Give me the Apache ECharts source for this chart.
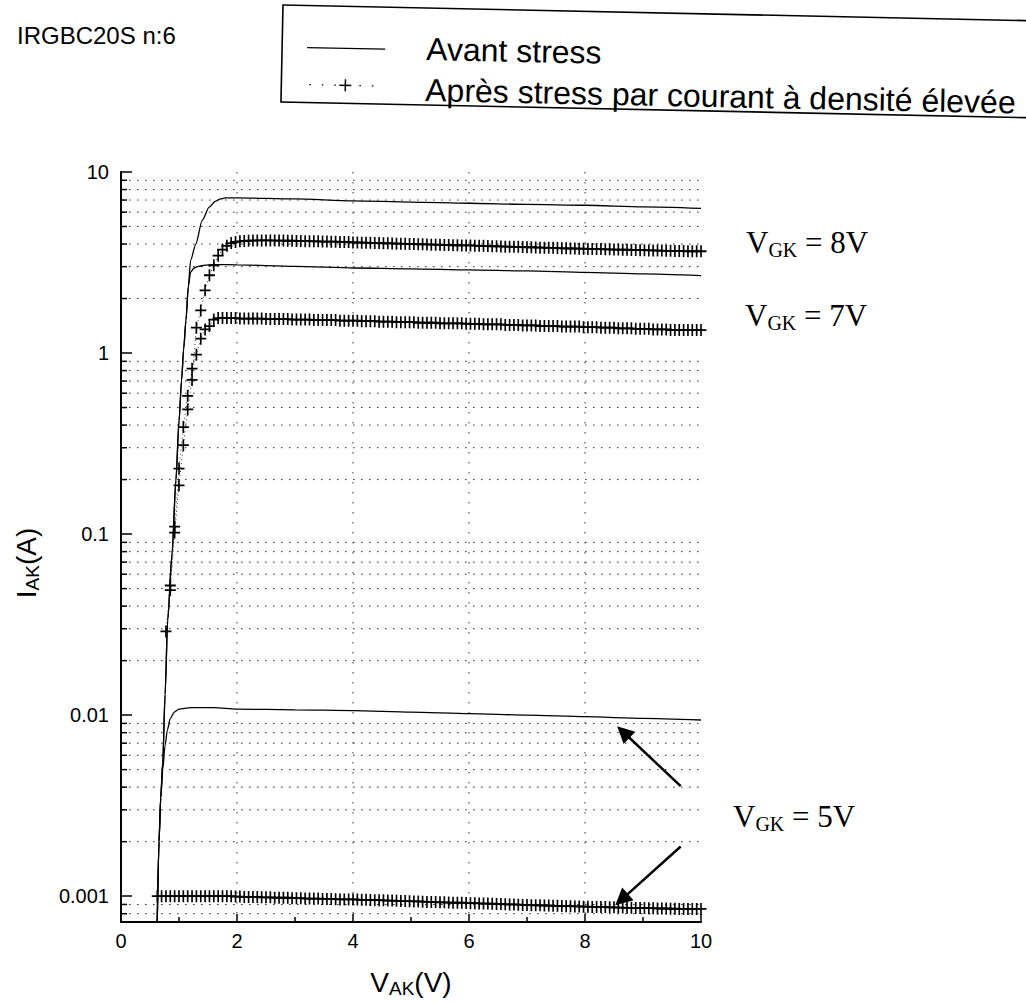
<!DOCTYPE html>
<html><head><meta charset="utf-8">
<script src="https://cdn.jsdelivr.net/npm/echarts@6.0.0/dist/echarts.min.js"></script>
<style>html,body{margin:0;padding:0;background:#fff;overflow:hidden}#chart{width:1026px;height:1004px}</style>
</head><body><div id="chart"></div>
<script>
// ---------------- data ----------------
const xTickLabels = ['0', '2', '4', '6', '8', '10'];
const yTickLabels = ['0.001', '0.01', '0.1', '1', '10'];
const hGridValues = [0.0008, 0.0009,
  0.002, 0.003, 0.004, 0.005, 0.006, 0.007, 0.008, 0.009,
  0.02, 0.03, 0.04, 0.05, 0.06, 0.07, 0.08, 0.09,
  0.2, 0.3, 0.4, 0.5, 0.6, 0.7, 0.8, 0.9,
  2, 3, 4, 5, 6, 7, 8, 9];
const vGridValues = [2, 4, 6, 8];

// "Avant stress" (solid curves)
const vAvant5 = [0.625, 0.655, 0.685, 0.72, 0.76, 0.8, 0.85, 0.92, 1.0, 1.2, 1.6, 2, 3, 4, 5, 6, 7, 8, 9, 10];
const iAvant5 = [0.00072, 0.002, 0.0035, 0.005, 0.0068, 0.0083, 0.0096, 0.0104, 0.0108, 0.011, 0.011, 0.0108, 0.0107, 0.0106, 0.0104, 0.0102, 0.0100, 0.0098, 0.0096, 0.0094];
const vAvant7 = [0.625, 0.655, 0.685, 0.72, 0.76, 0.805, 0.88, 0.947, 1.0, 1.045, 1.08, 1.12, 1.16, 1.2, 1.26, 1.33, 1.45, 1.6, 2, 3, 4, 5, 6, 7, 8, 9, 10];
const iAvant7 = [0.00072, 0.002, 0.0035, 0.0055, 0.013, 0.0335, 0.078, 0.199, 0.42, 0.71, 1.05, 1.52, 2.32, 2.8, 2.95, 3.01, 3.06, 3.08, 3.07, 3.01, 2.95, 2.92, 2.88, 2.84, 2.79, 2.74, 2.68];
const vAvant8 = [0.625, 0.655, 0.685, 0.72, 0.76, 0.805, 0.88, 0.947, 1.0, 1.045, 1.08, 1.12, 1.16, 1.2, 1.29, 1.4, 1.52, 1.63, 1.72, 1.8, 2, 3, 4, 5, 6, 7, 8, 9, 10];
const iAvant8 = [0.00072, 0.002, 0.0035, 0.0055, 0.013, 0.0335, 0.078, 0.199, 0.42, 0.71, 1.05, 1.52, 2.32, 3.25, 4.0, 5.4, 6.4, 6.9, 7.1, 7.2, 7.2, 7.1, 6.93, 6.82, 6.72, 6.63, 6.55, 6.42, 6.3];

// "Après stress" (crosses), shared V_AK grid
const vApres = [
  0.625, 0.7, 0.775, 0.85, 0.925, 1, 1.075, 1.15, 1.225, 1.3,
  1.375, 1.45, 1.525, 1.6, 1.675, 1.75, 1.825, 1.9, 1.975, 2.05,
  2.125, 2.2, 2.275, 2.35, 2.425, 2.5, 2.575, 2.65, 2.725, 2.8,
  2.875, 2.95, 3.025, 3.1, 3.175, 3.25, 3.325, 3.4, 3.475, 3.55,
  3.625, 3.7, 3.775, 3.85, 3.925, 4, 4.075, 4.15, 4.225, 4.3,
  4.375, 4.45, 4.525, 4.6, 4.675, 4.75, 4.825, 4.9, 4.975, 5.05,
  5.125, 5.2, 5.275, 5.35, 5.425, 5.5, 5.575, 5.65, 5.725, 5.8,
  5.875, 5.95, 6.025, 6.1, 6.175, 6.25, 6.325, 6.4, 6.475, 6.55,
  6.625, 6.7, 6.775, 6.85, 6.925, 7, 7.075, 7.15, 7.225, 7.3,
  7.375, 7.45, 7.525, 7.6, 7.675, 7.75, 7.825, 7.9, 7.975, 8.05,
  8.125, 8.2, 8.275, 8.35, 8.425, 8.5, 8.575, 8.65, 8.725, 8.8,
  8.875, 8.95, 9.025, 9.1, 9.175, 9.25, 9.325, 9.4, 9.475, 9.55,
  9.625, 9.7, 9.775, 9.85, 9.925, 10];
const iApres8 = [
  null, null, 0.029, 0.052, 0.102, 0.186, 0.31, 0.488, 0.71, 1.38,
  1.72, 2.22, 2.69, 3.05, 3.45, 3.73, 3.91, 4.05, 4.11, 4.14,
  4.16, 4.17, 4.18, 4.19, 4.19, 4.19, 4.19, 4.18, 4.18, 4.18,
  4.17, 4.17, 4.16, 4.16, 4.15, 4.15, 4.14, 4.14, 4.13, 4.13,
  4.12, 4.12, 4.11, 4.11, 4.10, 4.08, 4.08, 4.07, 4.07, 4.06,
  4.05, 4.05, 4.04, 4.04, 4.03, 4.02, 4.02, 4.01, 4.00, 4.00,
  3.99, 3.99, 3.98, 3.97, 3.97, 3.96, 3.95, 3.95, 3.94, 3.94,
  3.93, 3.93, 3.93, 3.92, 3.91, 3.91, 3.90, 3.89, 3.89, 3.88,
  3.87, 3.87, 3.86, 3.86, 3.85, 3.84, 3.84, 3.83, 3.82, 3.82,
  3.81, 3.81, 3.80, 3.79, 3.79, 3.78, 3.78, 3.77, 3.77, 3.76,
  3.76, 3.75, 3.75, 3.74, 3.74, 3.73, 3.73, 3.72, 3.72, 3.71,
  3.71, 3.70, 3.70, 3.69, 3.69, 3.68, 3.68, 3.67, 3.67, 3.66,
  3.66, 3.66, 3.65, 3.65, 3.65, 3.65];
const iApres7 = [
  null, null, null, 0.049, 0.11, 0.23, 0.39, 0.58, 0.82, 0.98,
  1.2, 1.35, 1.41, 1.53, 1.56, 1.56, 1.56, 1.56, 1.56, 1.55,
  1.55, 1.55, 1.55, 1.55, 1.55, 1.54, 1.54, 1.54, 1.54, 1.54,
  1.54, 1.53, 1.53, 1.53, 1.53, 1.53, 1.52, 1.52, 1.52, 1.52,
  1.52, 1.52, 1.51, 1.51, 1.51, 1.51, 1.51, 1.50, 1.50, 1.50,
  1.50, 1.49, 1.49, 1.49, 1.49, 1.48, 1.48, 1.48, 1.48, 1.48,
  1.47, 1.47, 1.47, 1.47, 1.47, 1.46, 1.46, 1.46, 1.46, 1.46,
  1.46, 1.45, 1.45, 1.45, 1.45, 1.44, 1.44, 1.44, 1.44, 1.44,
  1.43, 1.43, 1.43, 1.43, 1.42, 1.42, 1.42, 1.42, 1.41, 1.41,
  1.41, 1.41, 1.41, 1.40, 1.40, 1.40, 1.40, 1.40, 1.39, 1.39,
  1.39, 1.39, 1.38, 1.38, 1.38, 1.38, 1.37, 1.37, 1.37, 1.37,
  1.36, 1.36, 1.36, 1.36, 1.35, 1.35, 1.35, 1.35, 1.34, 1.34,
  1.34, 1.34, 1.34, 1.34, 1.34, 1.34];
const iApres5 = [
  0.00100, 0.00100, 0.00100, 0.00100, 0.00100, 0.00100, 0.00100, 0.00100, 0.00100, 0.00100,
  0.00100, 0.00100, 0.00100, 0.00100, 0.00100, 0.00100, 0.00100, 0.00100, 0.000995, 0.000995,
  0.00099, 0.00099, 0.00099, 0.00099, 0.000985, 0.000985, 0.000985, 0.00098, 0.00098, 0.00098,
  0.00098, 0.000975, 0.000975, 0.000975, 0.00097, 0.00097, 0.00097, 0.00097, 0.000965, 0.000965,
  0.000965, 0.000962, 0.00096, 0.00096, 0.00096, 0.00096, 0.000958, 0.000955, 0.000955, 0.000952,
  0.00095, 0.00095, 0.000948, 0.000945, 0.000945, 0.000942, 0.00094, 0.00094, 0.000938, 0.000935,
  0.000935, 0.000932, 0.00093, 0.00093, 0.000928, 0.000925, 0.000925, 0.000922, 0.00092, 0.00092,
  0.00092, 0.000918, 0.000915, 0.000915, 0.000912, 0.00091, 0.00091, 0.000908, 0.000905, 0.000905,
  0.000902, 0.0009, 0.0009, 0.000898, 0.000895, 0.000895, 0.000892, 0.00089, 0.00089, 0.000888,
  0.000888, 0.000885, 0.000885, 0.000882, 0.00088, 0.00088, 0.000878, 0.000878, 0.000875, 0.000875,
  0.000872, 0.000872, 0.00087, 0.00087, 0.000868, 0.000868, 0.000865, 0.000865, 0.000862, 0.000862,
  0.00086, 0.00086, 0.00086, 0.000858, 0.000858, 0.000855, 0.000855, 0.000855, 0.000852, 0.000852,
  0.00085, 0.00085, 0.00085, 0.00085, 0.00085, 0.00085];

// annotation arrows (data coordinates: [V_AK, I_AK]) tail -> head
const arrowTails = [[9.65, 0.00405], [9.65, 0.00188]];
const arrowHeads = [[8.66, 0.00807], [8.63, 0.000957]];

// ---------------- chart ----------------
const sans = "'Liberation Sans', Arial, sans-serif";
const serif = "'Liberation Serif', 'Times New Roman', serif";
const crossPath = 'path://M8.5,0h3v8.5h8.5v3h-8.5v8.5h-3v-8.5h-8.5v-3h8.5z';
const X_MIN = 0, X_MAX = 10, Y_MIN = 0.00072, Y_MAX = 10;

function pairs(xs, ys) {
  return xs.map((x, i) => [x, ys[i]]).filter(p => p[1] != null);
}

const chart = echarts.init(document.getElementById('chart'), null, {renderer: 'svg'});

const solidStyle = {color: '#000', width: 1.3};
function avant(name, xs, ys, extra) {
  return Object.assign({
    name: name, type: 'line', data: pairs(xs, ys), showSymbol: false,
    smooth: 0.25, smoothMonotone: 'x', lineStyle: solidStyle, z: 5, silent: true
  }, extra || {});
}
function apres(name, ys) {
  return {
    name: name, type: 'line', data: pairs(vApres, ys),
    symbol: crossPath, symbolSize: [11, 12], showSymbol: true,
    itemStyle: {color: '#000'},
    lineStyle: {color: '#333', width: 1, type: [1, 3]}, z: 6, silent: true
  };
}

const rich = {
  m: {fontSize: 31, fontFamily: serif, lineHeight: 35, fill: '#000'},
  s: {fontSize: 20, fontFamily: serif, lineHeight: 14, verticalAlign: 'bottom', fill: '#000'}
};

const option = {
  animation: false,
  backgroundColor: '#fff',
  grid: {left: 121, right: 325, top: 172, bottom: 82, containLabel: false},
  xAxis: {
    type: 'value', min: X_MIN, max: X_MAX, interval: 2,
    axisLine: {show: true, onZero: false, lineStyle: {color: '#000', width: 2}},
    axisTick: {show: true, inside: true, length: 8, lineStyle: {color: '#000', width: 1.5}},
    minorTick: {show: true, splitNumber: 2, length: 5, lineStyle: {color: '#000', width: 1.5}},
    splitLine: {show: false},
    axisLabel: {margin: 9, color: '#000', fontSize: 20, fontFamily: sans,
      formatter: v => xTickLabels[Math.round(v / 2)] || ''},
    name: '{m|V}{s|AK}{m|(V)}', nameLocation: 'middle', nameGap: 44,
    nameTextStyle: {rich: {
      m: {fontSize: 28, fontFamily: sans, lineHeight: 32, color: '#000'},
      s: {fontSize: 19, fontFamily: sans, lineHeight: 12, verticalAlign: 'bottom', color: '#000'}
    }}
  },
  yAxis: {
    type: 'log', logBase: 10, min: Y_MIN, max: Y_MAX,
    axisLine: {show: true, onZero: false, lineStyle: {color: '#000', width: 2}},
    axisTick: {show: true, inside: true, length: 11, lineStyle: {color: '#000', width: 1.5}},
    splitLine: {show: false},
    axisLabel: {margin: 12, color: '#000', fontSize: 20, fontFamily: sans,
      formatter: v => {
        const l = Math.log10(v), r = Math.round(l);
        return Math.abs(l - r) < 1e-6 ? (yTickLabels[r + 3] || '') : '';
      }},
    name: '{m|I}{s|AK}{m|(A)}', nameLocation: 'middle', nameRotate: 90, nameGap: 79,
    nameTextStyle: {padding: [0, 32, 0, 0], rich: {
      m: {fontSize: 28, fontFamily: sans, lineHeight: 32, color: '#000'},
      s: {fontSize: 19, fontFamily: sans, lineHeight: 12, verticalAlign: 'bottom', color: '#000'}
    }}
  },
  series: [
    {
      name: 'hgrid', type: 'custom', silent: true, z: 1,
      data: hGridValues.map(v => [X_MIN, v]), encode: {x: 0, y: 1},
      renderItem: (params, api) => {
        const v = api.value(1);
        const a = api.coord([X_MIN, v]), b = api.coord([X_MAX, v]);
        return {type: 'group', children: [
          {type: 'line', shape: {x1: a[0], y1: a[1], x2: b[0], y2: b[1]},
            style: {stroke: '#333', lineWidth: 1, lineDash: [1.6, 6.4]}},
          {type: 'line', shape: {x1: a[0], y1: a[1], x2: a[0] + 6, y2: a[1]},
            style: {stroke: '#000', lineWidth: 1.5}}
        ]};
      }
    },
    {
      name: 'vgrid', type: 'custom', silent: true, z: 1,
      data: vGridValues.map(x => [x, Y_MAX]), encode: {x: 0, y: 1},
      renderItem: (params, api) => {
        const x = api.value(0);
        const a = api.coord([x, Y_MAX]), b = api.coord([x, Y_MIN]);
        return {type: 'line', shape: {x1: a[0], y1: a[1], x2: b[0], y2: b[1]},
          style: {stroke: '#333', lineWidth: 1, lineDash: [1.5, 8.5]}};
      }
    },
    avant('Avant stress', vAvant5, iAvant5, {
      markLine: {
        silent: true, symbol: ['none', 'triangle'], symbolSize: 17, animation: false,
        lineStyle: {color: '#000', width: 2.5, type: 'solid'}, label: {show: false},
        itemStyle: {color: '#000'},
        emphasis: {disabled: true},
        data: arrowTails.map((t, i) => [{coord: t}, {coord: arrowHeads[i]}])
      }
    }),
    avant('Avant stress', vAvant7, iAvant7),
    avant('Avant stress', vAvant8, iAvant8),
    apres('Après stress par courant à densité élevée', iApres5),
    apres('Après stress par courant à densité élevée', iApres7),
    apres('Après stress par courant à densité élevée', iApres8)
  ],
  graphic: [
    {type: 'text', left: 17, top: 23, silent: true,
      style: {text: 'IRGBC20S n:6', fontSize: 24, fontFamily: sans, fill: '#000'}},
    {type: 'group', x: 283, y: 5, rotation: -0.021, silent: true, children: [
      {type: 'rect', shape: {x: 0, y: 0, width: 800, height: 97},
        style: {fill: 'none', stroke: '#000', lineWidth: 1.6}},
      {type: 'line', shape: {x1: 25, y1: 42, x2: 103, y2: 42}, style: {stroke: '#000', lineWidth: 1.3}},
      {type: 'text', x: 144, y: 41,
        style: {text: 'Avant stress', fontSize: 32, fontFamily: sans, fill: '#000', verticalAlign: 'middle'}},
      {type: 'line', shape: {x1: 28, y1: 79, x2: 94, y2: 79}, style: {stroke: '#000', lineWidth: 1.3, lineDash: [1.5, 11]}},
      {type: 'line', shape: {x1: 58, y1: 79, x2: 70, y2: 79}, style: {stroke: '#000', lineWidth: 1.5}},
      {type: 'line', shape: {x1: 64, y1: 73, x2: 64, y2: 85}, style: {stroke: '#000', lineWidth: 1.5}},
      {type: 'text', x: 144, y: 82,
        style: {text: 'Après stress par courant à densité élevée', fontSize: 32, fontFamily: sans, fill: '#000', verticalAlign: 'middle'}}
    ]},
    {type: 'text', left: 746, top: 227, silent: true, style: {text: '{m|V}{s|GK}{m| = 8V}', rich: rich}},
    {type: 'text', left: 745, top: 300, silent: true, style: {text: '{m|V}{s|GK}{m| = 7V}', rich: rich}},
    {type: 'text', left: 733, top: 801, silent: true, style: {text: '{m|V}{s|GK}{m| = 5V}', rich: rich}}
  ]
};
chart.setOption(option);
</script>
</body></html>
